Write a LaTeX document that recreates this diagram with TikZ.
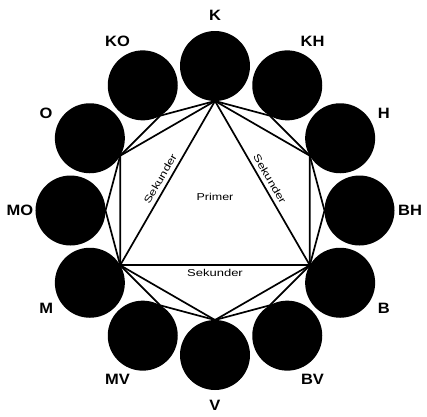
\documentclass[tikz,border=0pt]{standalone}
\usepackage{fontspec}
\setmainfont{Liberation Sans}
\usepackage{graphicx}
\newcommand{\widetext}[2]{\scalebox{#1}[1]{#2}}

\begin{document}
\begin{tikzpicture}[
    ball/.style={circle, fill=black, minimum size=70pt, inner sep=0pt},
    tag/.style={font=\bfseries\fontsize{15}{16}\selectfont},
    sec/.style={font=\fontsize{10}{11}\selectfont, inner sep=4pt},
    edge/.style={line width=1.7pt, line join=round}]
  \useasboundingbox (-215pt,-205.5pt) rectangle (212pt,210.5pt);

  % Vertici del dodecagono
  \coordinate (vk)  at (90:109.5pt);
  \coordinate (vkh) at (60:109.5pt);
  \coordinate (vh)  at (30:109.5pt);
  \coordinate (vbh) at (0:109.5pt);
  \coordinate (vb)  at (-30:109.5pt);
  \coordinate (vbv) at (-60:109.5pt);
  \coordinate (vv)  at (-90:109.5pt);
  \coordinate (vmv) at (-120:109.5pt);
  \coordinate (vm)  at (-150:109.5pt);
  \coordinate (vmo) at (180:109.5pt);
  \coordinate (vo)  at (150:109.5pt);
  \coordinate (vko) at (120:109.5pt);

  % Dodecagono esterno
  \draw[edge] (vk) -- (vkh) -- (vh) -- (vbh) -- (vb) -- (vbv) -- (vv)
    -- (vmv) -- (vm) -- (vmo) -- (vo) -- (vko) -- cycle;

  % Triangolo primario
  \draw[edge] (vm) -- node[sec, sloped, above] {\widetext{1.3}{Sekunder}} (vk);
  \draw[edge] (vk) -- node[sec, sloped, above] {\widetext{1.3}{Sekunder}} (vb);
  \draw[edge] (vm) -- node[sec, below, inner sep=3pt] {\widetext{1.3}{Sekunder}} (vb);
  \node[sec] (primer) at (0pt,13.5pt) {\widetext{1.25}{Primer}};

  % Triangoli secondari
  \draw[edge] (vk) -- (vo) -- (vm);
  \draw[edge] (vk) -- (vh) -- (vb);
  \draw[edge] (vm) -- (vv) -- (vb);

  % Cerchi dei colori
  \node[ball] (k)  at (90:144.5pt) {};
  \node[ball] (kh) at (60:144.5pt) {};
  \node[ball] (h)  at (30:144.5pt) {};
  \node[ball] (bh) at (0:144.5pt) {};
  \node[ball] (b)  at (-30:144.5pt) {};
  \node[ball] (bv) at (-60:144.5pt) {};
  \node[ball] (v)  at (-90:144.5pt) {};
  \node[ball] (mv) at (-120:144.5pt) {};
  \node[ball] (m)  at (-150:144.5pt) {};
  \node[ball] (mo) at (180:144.5pt) {};
  \node[ball] (o)  at (150:144.5pt) {};
  \node[ball] (ko) at (120:144.5pt) {};

  % Etichette
  \node[tag] (lk)  at (90:195pt) {\widetext{1.1}{K}};
  \node[tag] (lkh) at (60:195pt) {\widetext{1.1}{KH}};
  \node[tag] (lh)  at (30:195pt) {\widetext{1.1}{H}};
  \node[tag] (lbh) at (0:195pt) {\widetext{1.1}{BH}};
  \node[tag] (lb)  at (-30:195pt) {\widetext{1.1}{B}};
  \node[tag] (lbv) at (-60:195pt) {\widetext{1.1}{BV}};
  \node[tag] (lv)  at (-90:195pt) {\widetext{1.1}{V}};
  \node[tag] (lmv) at (-120:195pt) {\widetext{1.1}{MV}};
  \node[tag] (lm)  at (-150:195pt) {\widetext{1.1}{M}};
  \node[tag] (lmo) at (180:195pt) {\widetext{1.1}{MO}};
  \node[tag] (lo)  at (150:195pt) {\widetext{1.1}{O}};
  \node[tag] (lko) at (120:195pt) {\widetext{1.1}{KO}};
\end{tikzpicture}
\end{document}
